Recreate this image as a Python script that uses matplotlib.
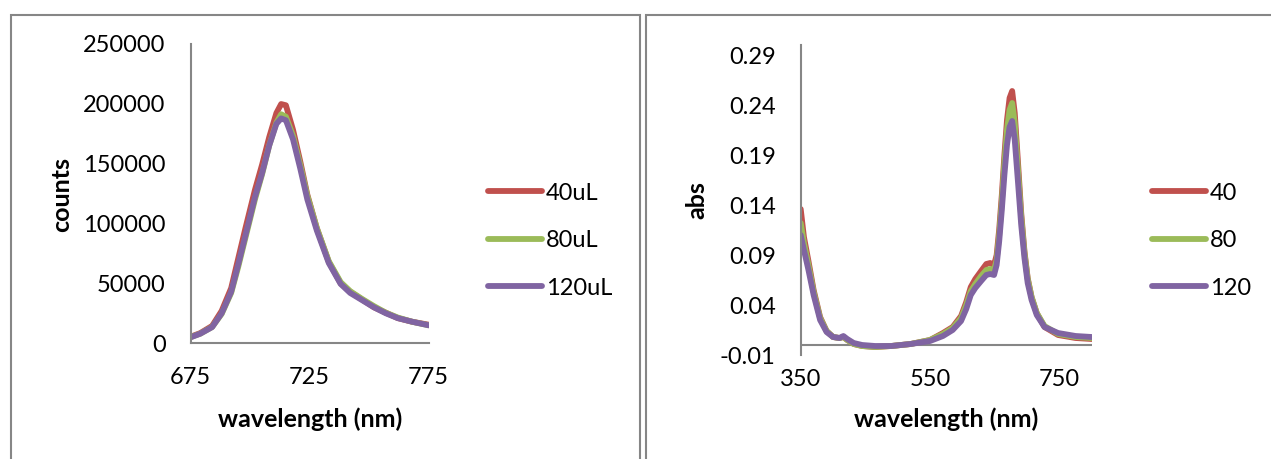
import matplotlib
matplotlib.use("Agg")
import matplotlib.pyplot as plt
from matplotlib.patches import Rectangle

plt.rcParams['font.family'] = ['Lato', 'DejaVu Sans']
plt.rcParams['axes.unicode_minus'] = False

# emission spectra (left)
wl_em = [675, 679, 684, 688, 692, 695, 698, 702, 705, 708, 711, 713, 715, 718, 721,
         724, 728, 733, 738, 742, 747, 752, 757, 762, 768, 775]
em_40 = [5500, 8500, 14500, 27000, 46000, 71000, 96000, 128000, 149000, 172000, 192000,
         199500, 198500, 178000, 152000, 124000, 96000, 68000, 50000, 43000, 36500, 30000,
         25500, 21000, 18000, 15500]
em_80 = [5200, 8000, 13600, 24500, 42000, 64000, 88000, 120000, 141000, 165000, 184000,
         191000, 189000, 173000, 149000, 123000, 96000, 68500, 51000, 43500, 37000, 31000,
         25500, 21500, 18000, 15000]
em_120 = [5000, 8000, 13500, 25000, 43000, 66000, 90000, 122000, 142000, 165000, 183000,
          187500, 186000, 170000, 146000, 120000, 94000, 67000, 49500, 42000, 36000, 30000,
          25000, 21000, 18000, 15000]
em_labels = ['40uL', '80uL', '120uL']

# absorbance spectra (right)
wl_abs = [350, 355, 362, 370, 380, 390, 400, 410, 416, 422, 432, 445, 465, 490, 520, 550,
          570, 585, 598, 606, 613, 620, 629, 637, 643, 649, 653, 657, 661, 665, 669, 673,
          677, 681, 686, 691, 696, 701, 707, 715, 727, 748, 775, 800]
abs_40 = [0.136, 0.108, 0.084, 0.055, 0.028, 0.014, 0.008, 0.007, 0.008, 0.005, 0.001,
          -0.001, -0.002, -0.001, 0.001, 0.005, 0.012, 0.018, 0.029, 0.043, 0.058, 0.066,
          0.074, 0.081, 0.082, 0.080, 0.090, 0.116, 0.150, 0.190, 0.225, 0.247, 0.254,
          0.232, 0.183, 0.132, 0.094, 0.067, 0.048, 0.032, 0.018, 0.010, 0.007, 0.006]
abs_80 = [0.122, 0.102, 0.080, 0.053, 0.027, 0.014, 0.008, 0.007, 0.008, 0.005, 0.001,
          -0.001, -0.002, -0.001, 0.001, 0.005, 0.011, 0.017, 0.027, 0.040, 0.054, 0.061,
          0.069, 0.075, 0.076, 0.075, 0.085, 0.110, 0.143, 0.182, 0.215, 0.235, 0.242,
          0.222, 0.175, 0.128, 0.092, 0.066, 0.048, 0.032, 0.019, 0.011, 0.008, 0.007]
abs_120 = [0.110, 0.095, 0.075, 0.050, 0.025, 0.013, 0.008, 0.007, 0.009, 0.006, 0.002,
           0.000, -0.001, -0.001, 0.001, 0.004, 0.009, 0.015, 0.024, 0.036, 0.050, 0.057,
           0.064, 0.070, 0.071, 0.070, 0.080, 0.104, 0.135, 0.170, 0.200, 0.218, 0.224,
           0.205, 0.163, 0.120, 0.087, 0.062, 0.045, 0.030, 0.018, 0.012, 0.009, 0.008]
abs_labels = ['40', '80', '120']

colors = ['#C0504D', '#9BBB59', '#8064A2']
grey = '#868686'
W, H = 1271, 459

fig = plt.figure(figsize=(W / 100, H / 100), dpi=100)

# chart boxes
fig.add_artist(Rectangle((11 / W, -0.1), 629 / W, (H - 15) / H + 0.1,
                         transform=fig.transFigure, fill=False, ec=grey, lw=1.5))
fig.add_artist(Rectangle((646 / W, -0.1), 0.5, (H - 15) / H + 0.1,
                         transform=fig.transFigure, fill=False, ec=grey, lw=1.5))

ax1 = fig.add_axes([190.7 / W, (H - 343.3) / H, 238 / W, 299.8 / H])
ax2 = fig.add_axes([800.7 / W, (H - 355) / H, 291 / W, 310 / H])

for y, c, lab in zip([em_40, em_80, em_120], colors, em_labels):
    ax1.plot(wl_em, y, color=c, lw=4.2, label=lab, solid_capstyle='round', solid_joinstyle='round')
for y, c, lab in zip([abs_40, abs_80, abs_120], colors, abs_labels):
    ax2.plot(wl_abs, y, color=c, lw=4.2, label=lab, solid_capstyle='round', solid_joinstyle='round')

ax1.set_xlim(675, 775)
ax1.set_ylim(0, 250000)
ax1.set_xticks([675, 725, 775])
ax1.set_yticks([0, 50000, 100000, 150000, 200000, 250000])
ax1.set_yticklabels(['0', '50000', '100000', '150000', '200000', '250000'])

ax2.set_xlim(350, 800)
ax2.set_ylim(-0.01, 0.30)
ax2.set_xticks([350, 550, 750])
yt = [-0.01, 0.04, 0.09, 0.14, 0.19, 0.24, 0.29]
ax2.set_yticks(yt)
ax2.set_yticklabels(['%.2f' % v for v in yt])
ax2.axhline(0, color=grey, lw=1.5, zorder=1)

for ax in (ax1, ax2):
    for s in ('top', 'right'):
        ax.spines[s].set_visible(False)
    ax.spines['left'].set_color(grey)
    ax.spines['left'].set_linewidth(1.5)
    ax.spines['bottom'].set_color(grey)
    ax.spines['bottom'].set_linewidth(1.5)
    ax.tick_params(length=0, labelsize=17, pad=18)
    ax.set_xlabel('wavelength (nm)', fontsize=18, fontweight='bold')
    ax.xaxis.label.set_verticalalignment('center')
    ax.patch.set_visible(False)
ax2.spines['bottom'].set_visible(False)
ax1.tick_params(axis='x', pad=17)
ax2.tick_params(axis='x', pad=10)

ax1.set_ylabel('counts', fontsize=18, fontweight='bold')
ax2.set_ylabel('abs', fontsize=18, fontweight='bold')
ax1.yaxis.label.set_verticalalignment('center')
ax2.yaxis.label.set_verticalalignment('center')
ax1.yaxis.set_label_coords((62 - 190.7) / 238, 0.495)
ax2.yaxis.set_label_coords((697 - 800.7) / 291, 0.5)
ax1.xaxis.set_label_coords(0.5, (343.3 - 419) / 299.8)
ax2.xaxis.set_label_coords(0.5, (355 - 419) / 310)

for ax, x0 in ((ax1, 488), (ax2, 1152)):
    ax.legend(loc='center left', bbox_to_anchor=(x0 / W, (H - 240.7) / H),
              bbox_transform=fig.transFigure, frameon=False, fontsize=17,
              handlelength=2.3, handletextpad=0.15, labelspacing=1.12,
              borderpad=0, borderaxespad=0)

fig.savefig('out.png', dpi=100)
